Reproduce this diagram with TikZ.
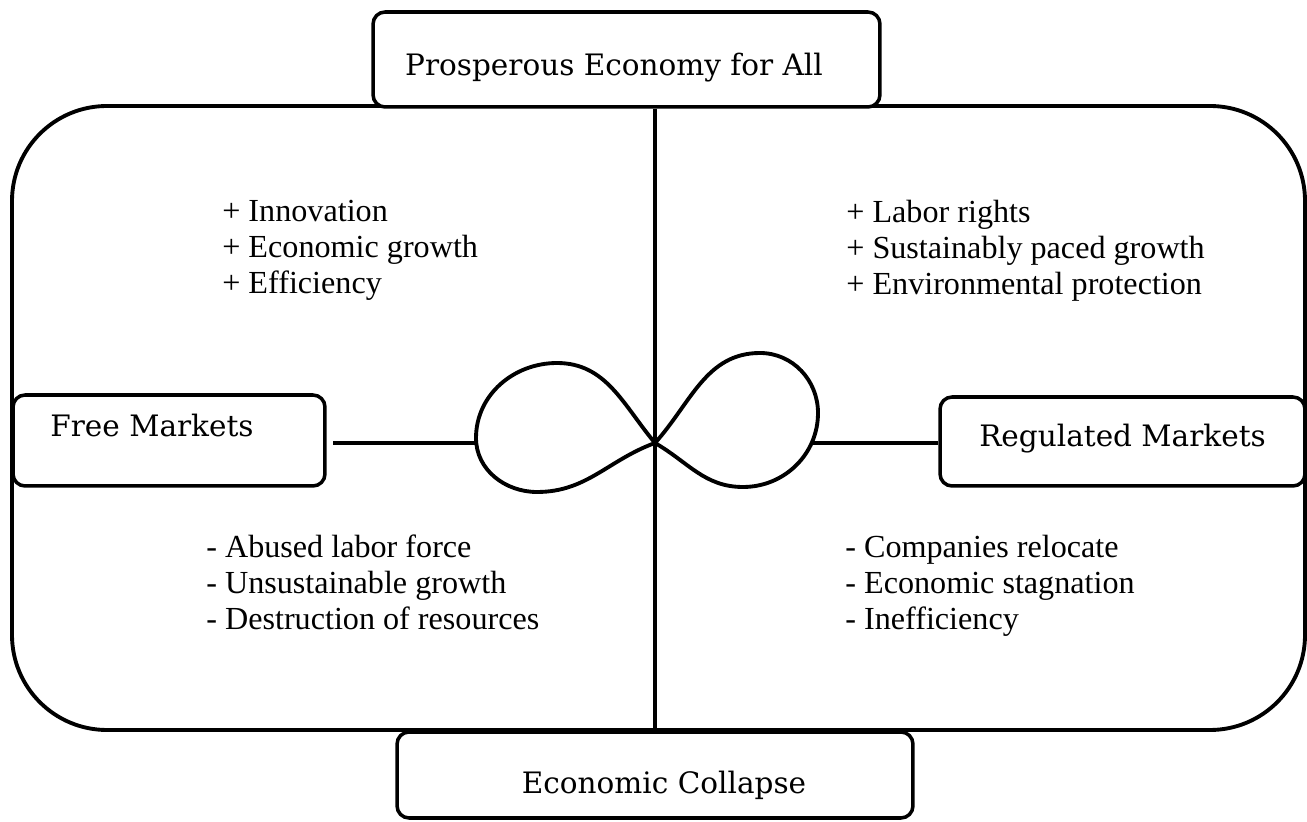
\documentclass[tikz,border=0pt]{standalone}
\usepackage{fontspec}
\setmainfont{Liberation Serif}
\newfontfamily\slabfont{DejaVu Serif}
\begin{document}
\begin{tikzpicture}[x=0.02cm, y=0.02cm,
    box/.style = {draw, fill=white, line width=2pt, rounded corners=0.24cm,
        font=\slabfont\fontsize{16.8}{19}\selectfont, inner sep=0pt, text depth=0pt},
    points/.style = {anchor=north west, align=left, inner sep=0pt,
        font=\fontsize{18.3}{20.5}\selectfont},
    wire/.style = {line width=2.2pt}]
    \useasboundingbox (0,0) rectangle (1307,821);
    \draw[wire, rounded corners=1.9cm] (12,91) rectangle (1305,715);

    \node[box, minimum width=10.14cm, minimum height=1.9cm, text height=0.66cm] (good) at (626.5,761.5) {Prosperous Economy for All\hspace*{0.5cm}};
    \node[box, minimum width=6.24cm, minimum height=1.82cm, text height=0pt, text depth=0.14cm] (free) at (169,380.5) {Free Markets\hspace*{0.68cm}};
    \node[box, minimum width=7.3cm, minimum height=1.78cm, text height=0.22cm] (reg) at (1122.5,379.5) {Regulated Markets};
    \node[box, minimum width=10.32cm, minimum height=1.72cm, text height=0.76cm] (bad) at (655,46) {\hspace*{0.36cm}Economic Collapse};

    \coordinate (x) at (655,378);
    \coordinate (l) at (333,378);
    \coordinate (ll) at (477,378);
    \coordinate (rr) at (813,378);

    \draw[wire] (x |- good.south) -- (x |- bad.north);
    \draw[wire] (x) to[out=130,in=0] (557,458) to[out=180,in=90] (476,383)
        to[out=-90,in=180] (537,329) to[out=0,in=200] (x)
        to[out=48,in=180] (760,468) to[out=0,in=90] (818,408)
        to[out=-90,in=0] (743,334) to[out=180,in=-30] (x);
    \draw[wire] (l) -- (ll);
    \draw[wire] (rr) -- (rr -| reg.west);

    \node[points] (freeplus) at (222,621.6) {+ Innovation\\+ Economic growth\\+ Efficiency};
    \node[points] (regplus) at (846,621.6) {+ Labor rights\\+ Sustainably paced growth\\+ Environmental protection};
    \node[points] (freeminus) at (206,286.6) {- Abused labor force\\- Unsustainable growth\\- Destruction of resources};
    \node[points] (regminus) at (845,286.6) {- Companies relocate\\- Economic stagnation\\- Inefficiency};
\end{tikzpicture}
\end{document}
